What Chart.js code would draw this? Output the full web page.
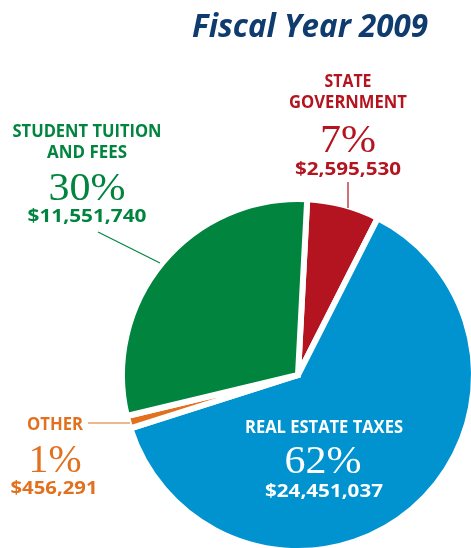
<!DOCTYPE html>
<html>
<head>
<meta charset="utf-8">
<script src="https://cdn.jsdelivr.net/npm/chart.js@4.4.0/dist/chart.umd.min.js"></script>
<style>
  html, body { margin:0; padding:0; background:#fff; overflow:hidden; }
  #wrap { position:absolute; left:0; top:0; width:500px; height:580px; }
</style>
</head>
<body>
<div id="wrap"><canvas id="pieChart" width="500" height="580"></canvas></div>
<script>
// data (clockwise from top)
var categories = ["STATE GOVERNMENT", "REAL ESTATE TAXES", "OTHER", "STUDENT TUITION AND FEES"];
var amounts = [2595530, 24451037, 456291, 11551740];
var percentLabels = ["7%", "62%", "1%", "30%"];
var amountLabels = ["$2,595,530", "$24,451,037", "$456,291", "$11,551,740"];
var sliceColors = ["#b3141f", "#0093d0", "#e2711f", "#00843e"];
var chartTitle = "Fiscal Year 2009";

// label layout: [text, centerX, baselineY, width, font, color]
var BOLD = "bold 17px 'Open Sans'";
var MONEY = "bold 18px 'Open Sans'";
var PCT = "41px 'Liberation Serif'";
var labelItems = [
  [chartTitle, 310, 37, 236, "italic bold 33px 'Open Sans'", "#0f3b6f"],
  ["STUDENT TUITION", 87, 137, 149, BOLD, sliceColors[3]],
  ["AND FEES", 87, 158, 80, BOLD, sliceColors[3]],
  [percentLabels[3], 87, 200, 77, PCT, sliceColors[3]],
  [amountLabels[3], 87, 222, 119, MONEY, sliceColors[3]],
  ["STATE", 348, 87, 47, BOLD, sliceColors[0]],
  ["GOVERNMENT", 348, 108, 118, BOLD, sliceColors[0]],
  [percentLabels[0], 348, 152, 56, PCT, sliceColors[0]],
  [amountLabels[0], 348, 175, 106, MONEY, sliceColors[0]],
  ["OTHER", 55, 430, 56, BOLD, sliceColors[2]],
  [percentLabels[2], 55, 472, 53, PCT, sliceColors[2]],
  [amountLabels[2], 54, 494, 87, MONEY, sliceColors[2]],
  ["REAL ESTATE TAXES", 324, 433, 158, BOLD, "#ffffff"],
  [percentLabels[1], 323, 473, 77, PCT, "#ffffff"],
  [amountLabels[1], 324, 497, 118, MONEY, "#ffffff"]
];
var leaderLines = [
  [98, 232, 160, 263, sliceColors[3]],
  [348, 182, 348, 208, sliceColors[0]],
  [88, 423, 130, 423, sliceColors[2]]
];

var labelPlugin = {
  id: "fiscalLabels",
  afterDraw: function(chart){
    var ctx = chart.ctx;
    ctx.save();
    for(var i=0;i<leaderLines.length;i++){
      var l = leaderLines[i];
      ctx.strokeStyle = l[4];
      ctx.lineWidth = 1.2;
      ctx.beginPath();
      ctx.moveTo(l[0], l[1]);
      ctx.lineTo(l[2], l[3]);
      ctx.stroke();
    }
    ctx.textAlign = "left";
    ctx.textBaseline = "alphabetic";
    for(var k=0;k<labelItems.length;k++){
      var t = labelItems[k];
      ctx.font = t[4];
      ctx.fillStyle = t[5];
      var w = ctx.measureText(t[0]).width;
      var sx = t[3] / w;
      ctx.save();
      ctx.translate(t[1] - t[3]/2, t[2]);
      ctx.scale(sx, 1);
      ctx.fillText(t[0], 0, 0);
      ctx.restore();
    }
    ctx.restore();
  }
};

var pieCanvas = document.getElementById("pieChart").getContext("2d");
var pieChart = new Chart(pieCanvas, {
  type: "pie",
  data: {
    labels: categories,
    datasets: [{
      data: amounts,
      backgroundColor: sliceColors,
      borderColor: "#ffffff",
      borderWidth: 6,
      borderJoinStyle: "miter"
    }]
  },
  options: {
    responsive: false,
    animation: false,
    rotation: 3,
    layout: { padding: { left: 119, right: 23, top: 196, bottom: 26 } },
    plugins: {
      legend: { display: false },
      tooltip: { enabled: false },
      title: { display: false }
    }
  },
  plugins: [labelPlugin]
});
</script>
</body>
</html>
